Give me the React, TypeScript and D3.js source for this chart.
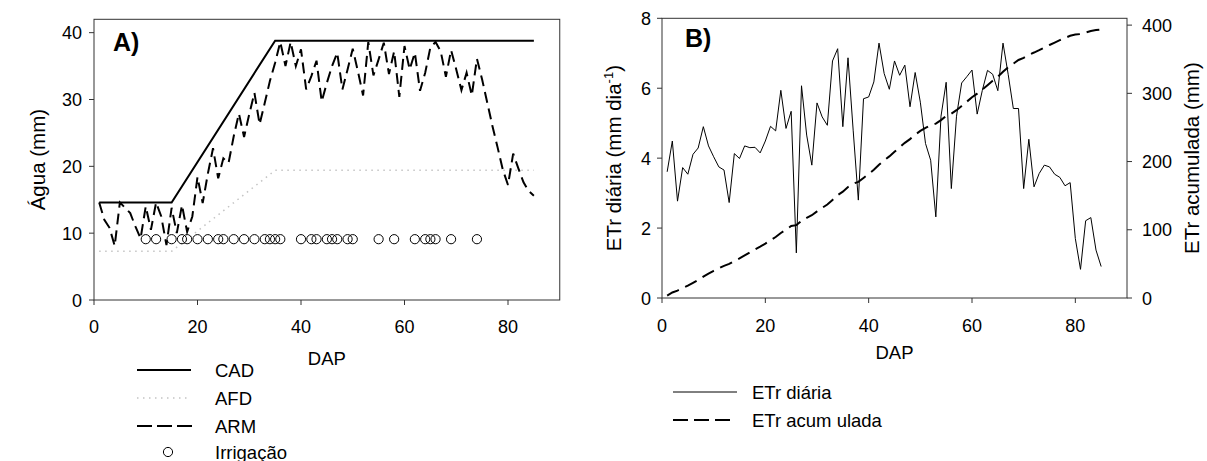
import React from 'react';
import * as d3 from 'd3';

// ---------- DATA ----------
const days = d3.range(1, 86); // DAP 1..85

const etrDaily = [
  3.61, 4.49, 2.77, 3.73, 3.54, 4.11, 4.29, 4.90, 4.35, 4.04,
  3.75, 3.66, 2.73, 4.13, 3.99, 4.35, 4.30, 4.31, 4.15, 4.49,
  4.91, 4.78, 5.94, 4.85, 5.34, 1.29, 6.07, 4.66, 3.80, 5.58,
  5.18, 4.94, 6.78, 7.13, 4.90, 6.87, 4.80, 2.80, 5.70, 5.75,
  6.18, 7.29, 6.42, 5.97, 6.78, 6.37, 6.66, 5.47, 6.45, 5.60,
  4.42, 3.94, 2.32, 5.20, 6.17, 3.13, 5.20, 6.15, 6.33, 6.52,
  5.26, 5.94, 6.51, 6.40, 5.93, 7.29, 6.40, 5.42, 5.42, 3.13,
  4.54, 3.18, 3.56, 3.80, 3.75, 3.54, 3.45, 3.21, 3.30, 1.70,
  0.82, 2.21, 2.30, 1.37, 0.90,
];

const etrAcum = [
  3.6, 8.1, 10.9, 14.6, 18.1, 22.3, 26.5, 31.4, 35.8, 39.8,
  43.6, 47.2, 50.0, 54.1, 58.1, 62.4, 66.7, 71.1, 75.2, 79.7,
  84.6, 89.4, 95.3, 100.2, 105.5, 106.8, 112.9, 117.5, 121.3, 126.9,
  132.1, 137.0, 143.8, 150.9, 155.8, 162.7, 167.5, 170.3, 176.0, 181.8,
  187.9, 195.2, 201.7, 207.6, 214.4, 220.8, 227.4, 232.9, 239.4, 245.0,
  249.4, 253.3, 255.6, 260.8, 267.0, 270.1, 275.3, 281.5, 287.8, 294.3,
  299.6, 305.5, 312.0, 318.4, 324.4, 331.7, 338.1, 343.5, 348.9, 352.0,
  356.6, 359.8, 363.3, 367.1, 370.9, 374.4, 377.9, 381.1, 384.4, 386.1,
  386.9, 389.1, 391.4, 392.8, 393.7,
];

const arm = [
  14.6, 12.0, 10.8, 8.1, 14.6, 13.8, 13.0, 11.0, 9.2, 14.0,
  10.5, 14.6, 12.5, 8.2, 13.8, 10.0, 14.2, 10.2, 12.5, 18.4,
  14.5, 18.9, 22.7, 18.2, 21.2, 20.5, 24.5, 27.9, 24.4, 27.8,
  31.0, 26.3, 29.5, 32.8, 35.5, 38.6, 35.0, 38.6, 35.0, 37.5,
  31.5, 33.5, 35.8, 29.7, 32.5, 35.0, 37.0, 31.5, 34.5, 37.6,
  34.2, 30.6, 38.6, 33.6, 36.0, 38.5, 33.8, 37.2, 30.4, 38.0,
  34.5, 37.0, 31.3, 34.0, 37.8, 38.6, 37.2, 33.4, 37.4, 34.5,
  31.4, 34.0, 30.6, 36.1, 33.0, 29.5, 26.0, 22.8, 19.5, 17.2,
  21.9, 19.7, 17.6, 16.3, 15.6,
];

const cadDays = [1, 15, 35, 85];
const cadValues = [14.6, 14.6, 38.8, 38.8];
const afdDays = [1, 15, 35, 85];
const afdValues = [7.3, 7.3, 19.4, 19.4];

const irrigationDays = [
  10, 12, 15, 17, 18, 20, 22, 24, 25, 27, 29, 31, 33, 34, 35, 36,
  40, 42, 43, 45, 46, 47, 49, 50, 55, 58, 62, 64, 65, 66, 69, 74,
];
const irrigationLevel = 9.1;

const xTicks = [0, 20, 40, 60, 80];
const yTicksA = [0, 10, 20, 30, 40];
const yTicksB = [0, 2, 4, 6, 8];
const yTicksB2 = [0, 100, 200, 300, 400];

// ---------- LAYOUT ----------
const FONT = 'Liberation Sans, Arial, sans-serif';
const FRAME = '#333';
const TICK_FS = 18;
const LEG_FS = 18.5;
const TITLE_FS = 20.5;

export default function App() {
  // Panel A
  const xA = d3.scaleLinear().domain([0, 90]).range([94, 559.75]);
  const yA = d3.scaleLinear().domain([0, 42]).range([300, 19.3]);
  // Panel B
  const xB = d3.scaleLinear().domain([0, 90]).range([662, 1127]);
  const yB = d3.scaleLinear().domain([0, 8]).range([298, 18.3]);
  const yB2 = d3.scaleLinear().domain([0, 410]).range([298, 18.3]);

  const lineA = d3.line<[number, number]>().x(d => xA(d[0])).y(d => yA(d[1]));
  const cadPath = lineA(cadDays.map((d, i) => [d, cadValues[i]]))!;
  const afdPath = lineA(afdDays.map((d, i) => [d, afdValues[i]]))!;
  const armPath = lineA(days.map((d, i) => [d, arm[i]]))!;

  const dailyPath = d3.line<number>().x((_, i) => xB(days[i])).y(v => yB(v))(etrDaily)!;
  const acumPath = d3.line<number>().x((_, i) => xB(days[i])).y(v => yB2(v))(etrAcum)!;

  const tick = 5;
  const [ax0, ax1] = xA.range();
  const [ay0, ay1] = yA.range();
  const [bx0, bx1] = xB.range();
  const [by0, by1] = yB.range();

  return (
    <svg width={1207} height={461} style={{ position: 'absolute', left: 0, top: 0, background: '#fff' }}
      fontFamily={FONT}>
      <rect x={0} y={0} width={1207} height={461} fill="#fff" />

      {/* ===== Panel A ===== */}
      <path d={afdPath} fill="none" stroke="#c4c4c4" strokeWidth={1.5} strokeDasharray="1.5,4.5" />
      {irrigationDays.map((d, i) => (
        <circle key={i} cx={xA(d)} cy={yA(irrigationLevel)} r={4.6} fill="none" stroke="#000" strokeWidth={1} />
      ))}
      <path d={armPath} fill="none" stroke="#000" strokeWidth={2} strokeDasharray="11,6" />
      <path d={cadPath} fill="none" stroke="#000" strokeWidth={2} />
      <rect x={ax0} y={ay1} width={ax1 - ax0} height={ay0 - ay1} fill="none" stroke={FRAME} strokeWidth={1} />
      {xTicks.map(t => (
        <g key={t}>
          <line x1={xA(t)} x2={xA(t)} y1={ay0} y2={ay0 + tick} stroke={FRAME} />
          <text x={xA(t)} y={333} fontSize={TICK_FS} textAnchor="middle">{t}</text>
        </g>
      ))}
      {yTicksA.map(t => (
        <g key={t}>
          <line x1={ax0 - tick} x2={ax0} y1={yA(t)} y2={yA(t)} stroke={FRAME} />
          <text x={82} y={yA(t) + 6.5} fontSize={TICK_FS} textAnchor="end">{t}</text>
        </g>
      ))}
      <text x={(ax0 + ax1) / 2} y={365} fontSize={LEG_FS} textAnchor="middle">DAP</text>
      <text transform={`translate(45,${(ay0 + ay1) / 2}) rotate(-90)`} fontSize={TITLE_FS} textAnchor="middle">Água (mm)</text>
      <text x={113} y={51} fontSize={25} fontWeight="bold">A)</text>

      {/* Legend A */}
      <line x1={137} x2={191} y1={370} y2={370} stroke="#000" strokeWidth={2} />
      <text x={215} y={376.5} fontSize={LEG_FS}>CAD</text>
      <line x1={137} x2={191} y1={398} y2={398} stroke="#c4c4c4" strokeWidth={1.5} strokeDasharray="1.5,4.5" />
      <text x={215} y={404.5} fontSize={LEG_FS}>AFD</text>
      <line x1={137} x2={192} y1={426} y2={426} stroke="#000" strokeWidth={2} strokeDasharray="15,5" />
      <text x={215} y={432.5} fontSize={LEG_FS}>ARM</text>
      <circle cx={168} cy={452} r={4.6} fill="none" stroke="#000" strokeWidth={1} />
      <text x={215} y={458.5} fontSize={LEG_FS}>Irrigação</text>

      {/* ===== Panel B ===== */}
      <path d={dailyPath} fill="none" stroke="#000" strokeWidth={1} />
      <path d={acumPath} fill="none" stroke="#000" strokeWidth={2} strokeDasharray="13,7" />
      <rect x={bx0} y={by1} width={bx1 - bx0} height={by0 - by1} fill="none" stroke={FRAME} strokeWidth={1} />
      {xTicks.map(t => (
        <g key={t}>
          <line x1={xB(t)} x2={xB(t)} y1={by0} y2={by0 + tick} stroke={FRAME} />
          <text x={xB(t)} y={332} fontSize={TICK_FS} textAnchor="middle">{t}</text>
        </g>
      ))}
      {yTicksB.map(t => (
        <g key={t}>
          <line x1={bx0 - tick} x2={bx0} y1={yB(t)} y2={yB(t)} stroke={FRAME} />
          <text x={651} y={yB(t) + 6.5} fontSize={TICK_FS} textAnchor="end">{t}</text>
        </g>
      ))}
      {yTicksB2.map(t => (
        <g key={t}>
          <line x1={bx1} x2={bx1 + tick} y1={yB2(t)} y2={yB2(t)} stroke={FRAME} />
          <text x={1142} y={yB2(t) + 6.5} fontSize={TICK_FS} textAnchor="start">{t}</text>
        </g>
      ))}
      <text x={(bx0 + bx1) / 2} y={359} fontSize={LEG_FS} textAnchor="middle">DAP</text>
      <text transform={`translate(621,${(by0 + by1) / 2}) rotate(-90)`} fontSize={TITLE_FS} textAnchor="middle">
        ETr diária (mm dia<tspan dy={-8} fontSize={13}>-1</tspan><tspan dy={8}>)</tspan>
      </text>
      <text transform={`translate(1199,${(by0 + by1) / 2}) rotate(-90)`} fontSize={TITLE_FS} textAnchor="middle">ETr acumulada (mm)</text>
      <text x={685} y={47} fontSize={25} fontWeight="bold">B)</text>

      {/* Legend B */}
      <line x1={673} x2={737} y1={392} y2={392} stroke="#000" strokeWidth={1} />
      <text x={752} y={398.5} fontSize={LEG_FS}>ETr diária</text>
      <line x1={673} x2={730} y1={420} y2={420} stroke="#000" strokeWidth={2} strokeDasharray="15,6" />
      <text x={752} y={426.5} fontSize={LEG_FS}>ETr acum ulada</text>
    </svg>
  );
}
